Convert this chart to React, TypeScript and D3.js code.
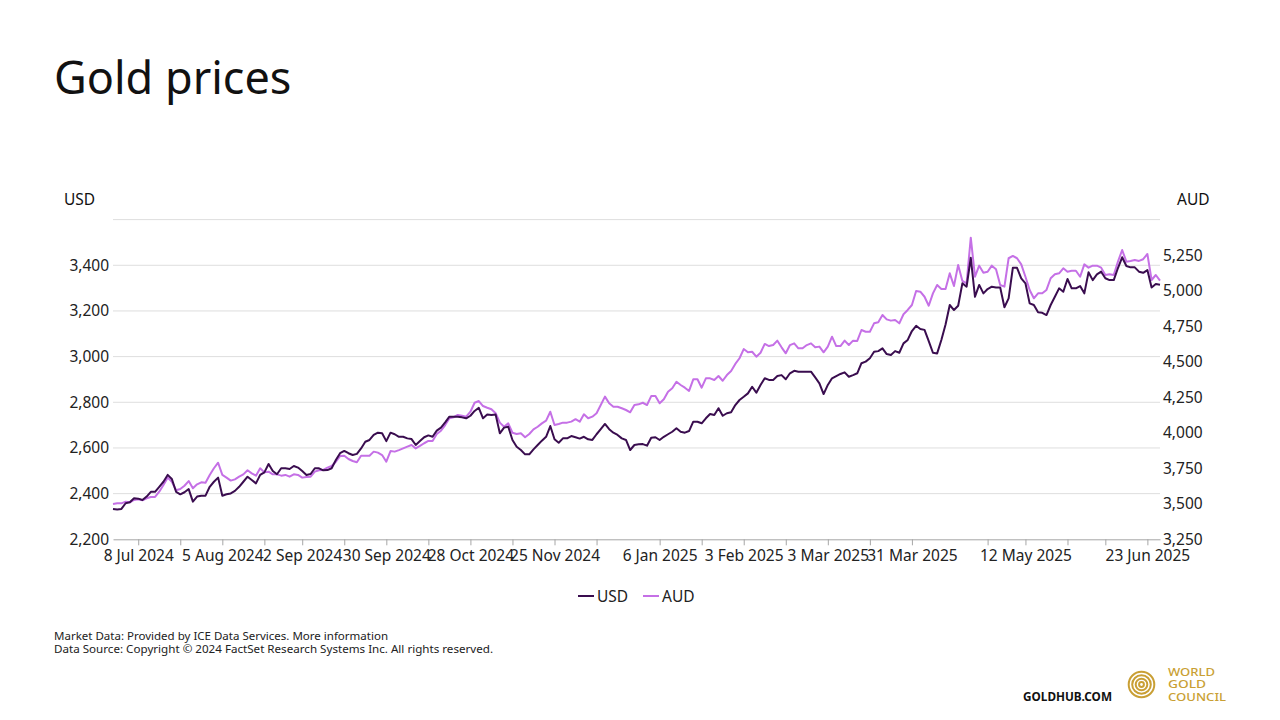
import * as d3 from "d3";
import { useEffect, useRef } from "react";

// Daily LBMA prices, 28 Jun 2024 .. 26 Jun 2025 (trading days)
const usdPrices = [
  2333, 2331, 2333, 2358, 2362, 2380, 2378, 2372, 2387, 2408,
  2408, 2430, 2452, 2482, 2464, 2408, 2397, 2406, 2420, 2365,
  2387, 2391, 2391, 2430, 2452, 2470, 2391, 2397, 2401, 2412,
  2430, 2452, 2474, 2460, 2445, 2482, 2493, 2530, 2499, 2485,
  2511, 2511, 2508, 2521, 2514, 2499, 2482, 2486, 2511, 2511,
  2502, 2503, 2511, 2547, 2577, 2587, 2577, 2569, 2574, 2598,
  2627, 2635, 2657, 2667, 2664, 2630, 2667, 2660, 2649, 2649,
  2642, 2639, 2613, 2630, 2647, 2655, 2649, 2676, 2689, 2712,
  2737, 2737, 2737, 2734, 2730, 2741, 2762, 2776, 2730, 2746,
  2744, 2746, 2664, 2689, 2693, 2635, 2605, 2591, 2572, 2572,
  2594, 2613, 2632, 2649, 2696, 2638, 2623, 2642, 2642, 2652,
  2647, 2641, 2649, 2638, 2635, 2660, 2682, 2705, 2682, 2667,
  2657, 2642, 2635, 2591, 2613, 2616, 2617, 2610, 2645, 2647,
  2635, 2649, 2660, 2671, 2686, 2671, 2667, 2674, 2715, 2715,
  2708, 2730, 2749, 2744, 2774, 2741, 2752, 2756, 2788, 2810,
  2824, 2839, 2868, 2842, 2876, 2905, 2898, 2898, 2915, 2919,
  2901, 2927, 2938, 2934, 2934, 2934, 2934, 2909, 2883, 2836,
  2876, 2905, 2915, 2924, 2931, 2912, 2919, 2927, 2971, 2978,
  2993, 3021, 3024, 3036, 3011, 3007, 3024, 3017, 3058, 3073,
  3112, 3135, 3121, 3117, 3068, 3017, 3014, 3073, 3141, 3226,
  3204, 3223, 3321, 3306, 3433, 3262, 3314, 3277, 3296, 3306,
  3303, 3303, 3216, 3255, 3389, 3389, 3343, 3321, 3233, 3226,
  3194, 3192, 3182, 3226, 3262, 3299, 3284, 3340, 3299, 3299,
  3309, 3277, 3369, 3335, 3360, 3372, 3343, 3335, 3335, 3388,
  3435, 3397, 3391, 3391, 3372, 3367, 3379, 3303, 3318, 3315,
];

const audPrices = [
  3498, 3503, 3503, 3515, 3510, 3527, 3532, 3525, 3539, 3548,
  3548, 3585, 3632, 3684, 3655, 3595, 3604, 3627, 3660, 3609,
  3637, 3651, 3648, 3703, 3750, 3789, 3703, 3684, 3663, 3672,
  3691, 3707, 3736, 3714, 3698, 3750, 3721, 3726, 3707, 3707,
  3698, 3703, 3691, 3707, 3703, 3684, 3688, 3691, 3726, 3736,
  3738, 3754, 3766, 3796, 3836, 3838, 3815, 3801, 3792, 3838,
  3838, 3838, 3867, 3860, 3843, 3796, 3871, 3867, 3878, 3890,
  3902, 3914, 3890, 3907, 3926, 3942, 3942, 3991, 4014, 4054,
  4102, 4109, 4125, 4120, 4113, 4148, 4211, 4223, 4188, 4176,
  4165, 4137, 4071, 4042, 4066, 4000, 3991, 3996, 3968, 3991,
  4024, 4042, 4066, 4085, 4148, 4054, 4061, 4071, 4071, 4078,
  4095, 4078, 4130, 4102, 4113, 4137, 4195, 4254, 4207, 4183,
  4183, 4172, 4160, 4144, 4195, 4200, 4211, 4195, 4258, 4258,
  4207, 4235, 4289, 4313, 4359, 4336, 4317, 4294, 4376, 4376,
  4317, 4383, 4383, 4371, 4399, 4366, 4406, 4434, 4484, 4524,
  4589, 4566, 4570, 4535, 4563, 4625, 4610, 4617, 4648, 4601,
  4559, 4617, 4629, 4594, 4594, 4617, 4629, 4601, 4606, 4566,
  4606, 4676, 4610, 4610, 4648, 4617, 4648, 4646, 4723, 4711,
  4711, 4770, 4777, 4829, 4798, 4789, 4793, 4770, 4834, 4864,
  4899, 4998, 4993, 4957, 4894, 4981, 5040, 5012, 5012, 5122,
  5033, 5181, 5068, 5052, 5373, 5098, 5176, 5126, 5133, 5176,
  5150, 5040, 5028, 5228, 5244, 5228, 5185, 5098, 5005, 4946,
  4981, 4981, 5005, 5087, 5115, 5122, 5157, 5133, 5140, 5140,
  5098, 5185, 5162, 5176, 5176, 5162, 5110, 5115, 5110, 5204,
  5286, 5204, 5209, 5216, 5209, 5221, 5258, 5075, 5110, 5070,
];

const usdTicks = [2200, 2400, 2600, 2800, 3000, 3200, 3400, 3600];
const audTicks = [3250, 3500, 3750, 4000, 4250, 4500, 4750, 5000, 5250];

// x ticks sit on trading-day positions; empty label = tick mark only
const xTickDays = [6, 16, 26, 36, 45, 55, 65, 75, 85, 95, 105, 115, 130, 140, 150, 160, 170, 180, 190, 208, 217, 227, 236, 246];
const xTickLabels = [
  "8 Jul 2024", "", "5 Aug 2024", "", "2 Sep 2024", "", "30 Sep 2024", "", "28 Oct 2024", "",
  "25 Nov 2024", "", "6 Jan 2025", "", "3 Feb 2025", "", "3 Mar 2025", "", "31 Mar 2025", "",
  "12 May 2025", "", "", "23 Jun 2025",
];

const USD_COLOR = "#3a0d4f";
const AUD_COLOR = "#c570e6";
const GOLD = "#c99f34";
const FONT = "'Noto Sans', 'Open Sans', sans-serif";

const App = () => {
  const ref = useRef<SVGSVGElement | null>(null);

  useEffect(() => {
    const width = 1280;
    const height = 720;
    const margin = { top: 219.6, right: 120, bottom: 180.7, left: 113 };

    const svg = d3.select(ref.current);
    svg.selectAll("*").remove();

    svg.append("rect").attr("width", width).attr("height", height).attr("fill", "#fff");

    const x = d3
      .scaleLinear()
      .domain([0, usdPrices.length - 1])
      .range([margin.left, width - margin.right]);
    const yUsd = d3
      .scaleLinear()
      .domain([2200, 3600])
      .range([height - margin.bottom, margin.top]);
    const yAud = d3
      .scaleLinear()
      .domain([3250, 5500])
      .range([height - margin.bottom, margin.top]);

    // Title
    svg
      .append("text")
      .attr("x", 54)
      .attr("y", 94)
      .attr("font-family", FONT)
      .attr("font-size", 45)
      .attr("fill", "#111")
      .text("Gold prices");

    // Axis titles
    svg
      .append("text")
      .attr("x", 64)
      .attr("y", 204.5)
      .attr("font-family", FONT)
      .attr("font-size", 15.5)
      .attr("fill", "#111")
      .text("USD");
    svg
      .append("text")
      .attr("x", 1177)
      .attr("y", 204.5)
      .attr("font-family", FONT)
      .attr("font-size", 15.5)
      .attr("fill", "#111")
      .text("AUD");

    // Gridlines from USD ticks
    svg
      .append("g")
      .selectAll("line")
      .data(usdTicks.slice(1))
      .enter()
      .append("line")
      .attr("x1", margin.left)
      .attr("x2", width - margin.right)
      .attr("y1", (d) => yUsd(d))
      .attr("y2", (d) => yUsd(d))
      .attr("stroke", "#dedede")
      .attr("stroke-width", 1);

    // Left axis labels (top tick unlabeled)
    const left = svg
      .append("g")
      .attr("transform", `translate(${margin.left}, 0)`)
      .call(
        d3
          .axisLeft(yUsd)
          .tickValues(usdTicks.slice(0, -1))
          .tickSize(0)
          .tickPadding(4)
          .tickFormat(d3.format(","))
      );
    left.select(".domain").remove();
    left
      .selectAll("text")
      .attr("font-family", FONT)
      .attr("font-size", 15.5)
      .attr("fill", "#222");

    // Right axis labels
    const right = svg
      .append("g")
      .attr("transform", `translate(${width - margin.right}, 0)`)
      .call(
        d3
          .axisRight(yAud)
          .tickValues(audTicks)
          .tickSize(0)
          .tickPadding(3)
          .tickFormat(d3.format(","))
      );
    right.select(".domain").remove();
    right
      .selectAll("text")
      .attr("font-family", FONT)
      .attr("font-size", 15.5)
      .attr("fill", "#222");

    // Bottom axis
    const bottom = svg
      .append("g")
      .attr("transform", `translate(0, ${height - margin.bottom})`)
      .call(
        d3
          .axisBottom(x)
          .tickValues(xTickDays)
          .tickSize(6)
          .tickSizeOuter(0)
          .tickPadding(5)
          .tickFormat((_, i) => xTickLabels[i])
      );
    bottom.select(".domain").attr("stroke", "#a6a6a6");
    bottom.selectAll("line").attr("stroke", "#a6a6a6");
    bottom
      .selectAll("text")
      .attr("font-family", FONT)
      .attr("font-size", 15.5)
      .attr("fill", "#222");

    // Lines
    const usdLine = d3
      .line<number>()
      .x((_, i) => x(i))
      .y((d) => yUsd(d));
    const audLine = d3
      .line<number>()
      .x((_, i) => x(i))
      .y((d) => yAud(d));

    svg
      .append("path")
      .datum(audPrices)
      .attr("fill", "none")
      .attr("stroke", AUD_COLOR)
      .attr("stroke-width", 2)
      .attr("stroke-linejoin", "round")
      .attr("d", audLine);
    svg
      .append("path")
      .datum(usdPrices)
      .attr("fill", "none")
      .attr("stroke", USD_COLOR)
      .attr("stroke-width", 2)
      .attr("stroke-linejoin", "round")
      .attr("d", usdLine);

    // Legend
    const legend = svg.append("g").attr("transform", "translate(578, 596)");
    const items = [
      { name: "USD", color: USD_COLOR, dx: 0 },
      { name: "AUD", color: AUD_COLOR, dx: 65 },
    ];
    items.forEach((it) => {
      legend
        .append("line")
        .attr("x1", it.dx)
        .attr("x2", it.dx + 16)
        .attr("y1", 0)
        .attr("y2", 0)
        .attr("stroke", it.color)
        .attr("stroke-width", 2);
      legend
        .append("text")
        .attr("x", it.dx + 19)
        .attr("y", 5.5)
        .attr("font-family", FONT)
        .attr("font-size", 15.5)
        .attr("fill", "#222")
        .text(it.name);
    });

    // Footer notes
    const notes = [
      "Market Data: Provided by ICE Data Services. More information",
      "Data Source: Copyright © 2024 FactSet Research Systems Inc. All rights reserved.",
    ];
    notes.forEach((t, i) => {
      svg
        .append("text")
        .attr("x", 54)
        .attr("y", 640 + i * 13)
        .attr("font-family", FONT)
        .attr("font-size", 11)
        .attr("fill", "#222")
        .attr("textLength", i === 0 ? 334 : 439)
        .attr("lengthAdjust", "spacingAndGlyphs")
        .text(t);
    });

    svg
      .append("text")
      .attr("x", 1023)
      .attr("y", 700.5)
      .attr("font-family", FONT)
      .attr("font-size", 12)
      .attr("font-weight", 700)
      .attr("fill", "#111")
      .attr("textLength", 89)
      .attr("lengthAdjust", "spacingAndGlyphs")
      .text("GOLDHUB.COM");

    // World Gold Council mark
    const logo = svg.append("g").attr("transform", "translate(1141.5, 684.5)");
    [12.8, 9.3, 5.8, 2.4].forEach((r) => {
      logo
        .append("circle")
        .attr("r", r)
        .attr("fill", "none")
        .attr("stroke", GOLD)
        .attr("stroke-width", 2);
    });
    const wgcWords = ["WORLD", "GOLD", "COUNCIL"];
    const wgcWidths = [47, 38, 58];
    wgcWords.forEach((t, i) => {
      svg
        .append("text")
        .attr("x", 1168)
        .attr("y", 676 + i * 12.4)
        .attr("font-family", FONT)
        .attr("font-size", 11)
        .attr("font-weight", 500)
        .attr("fill", GOLD)
        .attr("textLength", wgcWidths[i])
        .attr("lengthAdjust", "spacingAndGlyphs")
        .text(t);
    });
  }, []);

  return (
    <svg
      ref={ref}
      width={1280}
      height={720}
      style={{ position: "absolute", left: 0, top: 0 }}
    />
  );
};

export default App;
